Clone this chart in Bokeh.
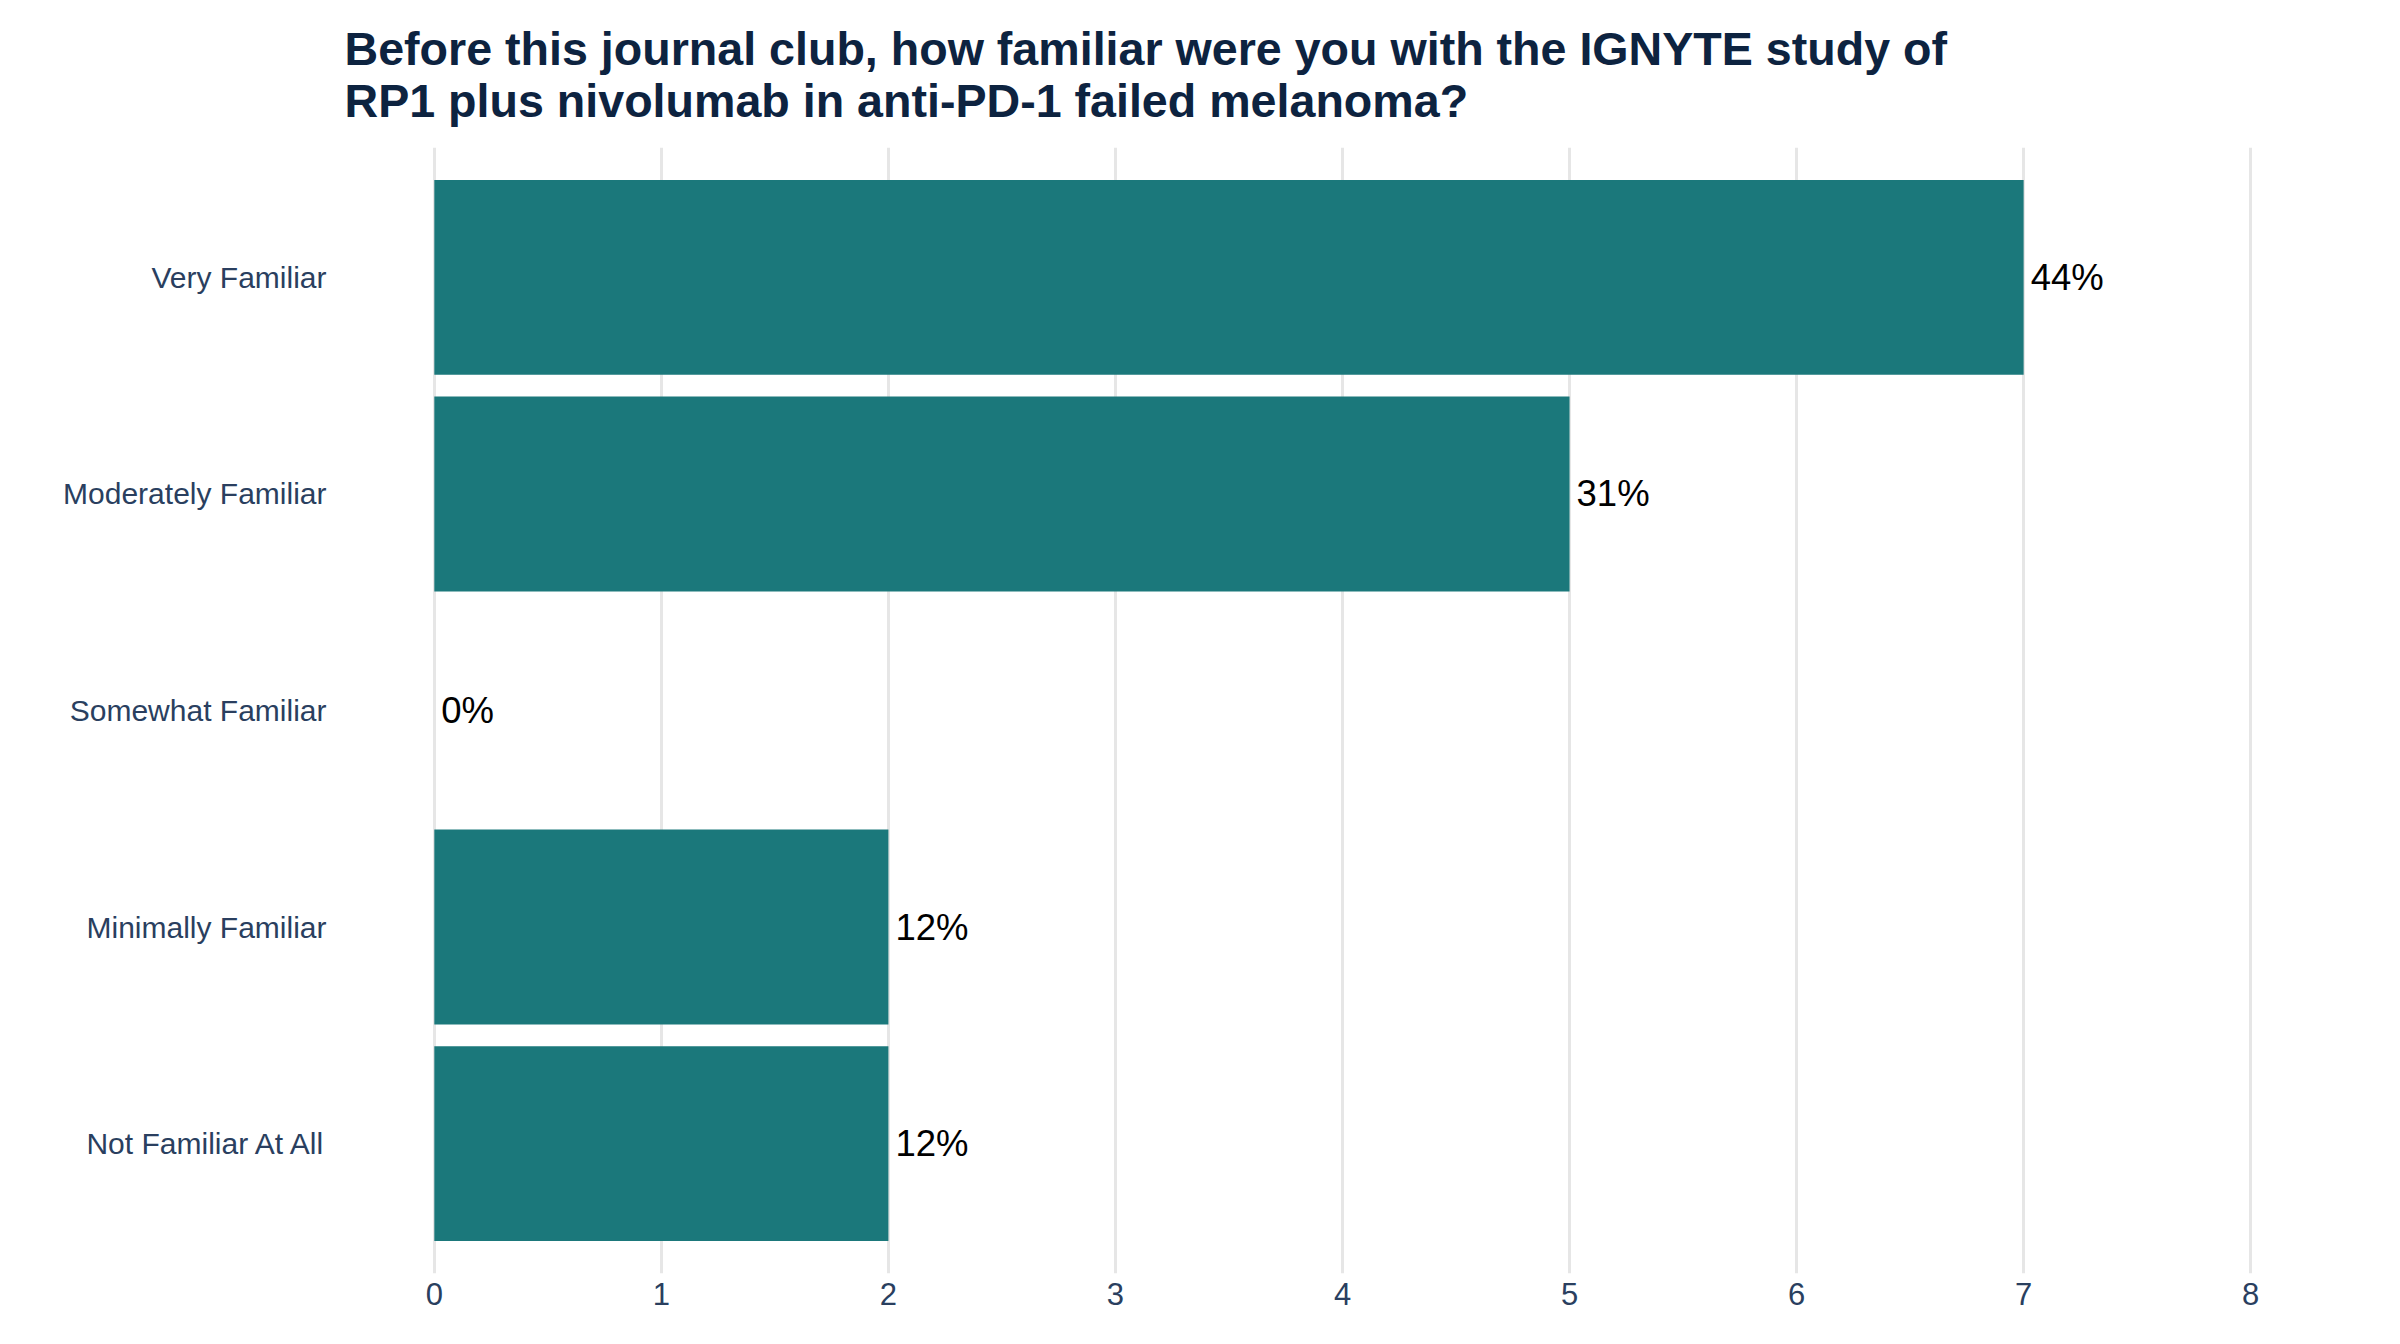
from bokeh.plotting import figure
from bokeh.models import FactorRange, Range1d, FixedTicker, ColumnDataSource
from bokeh.core.properties import value
from bokeh.embed import file_html
from bokeh.resources import INLINE

title_text = ("Before this journal club, how familiar were you with the IGNYTE study of\n"
              "RP1 plus nivolumab in anti-PD-1 failed melanoma?")

# categories from top to bottom as shown
categories = ["Very Familiar", "Moderately Familiar", "Somewhat Familiar",
              "Minimally Familiar", "Not Familiar At All"]
counts = [7, 5, 0, 2, 2]
pct_labels = ["44%", "31%", "0%", "12%", "12%"]
x_ticks = [0, 1, 2, 3, 4, 5, 6, 7, 8]

BAR_COLOR = "#1b787b"
FONT = "Liberation Sans"

source = ColumnDataSource(data=dict(cat=categories, count=counts, label=pct_labels))

y_range = FactorRange(factors=list(reversed(categories)), range_padding=0.04)

p = figure(
    width=2392, height=1338,
    y_range=y_range, x_range=Range1d(-0.4, 8.4),
    output_backend="svg", toolbar_location=None,
    min_border_left=343, min_border_right=51,
    min_border_top=147, min_border_bottom=65,
)

p.hbar(y="cat", right="count", left=0, height=0.9, source=source,
       fill_color=BAR_COLOR, line_color=None)

p.text(x="count", y="cat", text="label", source=source,
       x_offset=7, text_align="left", text_baseline="middle",
       text_font_size="36.5px", text_color="black", text_font=value(FONT))

# title
p.title.text = title_text
p.title.text_font = FONT
p.title.text_font_size = "46.6px"
p.title.text_font_style = "bold"
p.title.text_color = "#0d2340"
p.title.align = "left"
p.title.vertical_align = "bottom"
p.title.offset = 1
p.title.standoff = 41
p.title.text_line_height = 1.0

# axes
p.xaxis.ticker = FixedTicker(ticks=x_ticks)
for ax in (p.xaxis, p.yaxis):
    ax.axis_line_color = None
    ax.major_tick_line_color = None
    ax.minor_tick_line_color = None
    ax.major_tick_out = 0
    ax.major_tick_in = 0
    ax.major_label_text_font = FONT
    ax.major_label_text_color = "#2a3f5f"
p.xaxis.major_label_text_font_size = "31px"
p.yaxis.major_label_text_font_size = "30px"
p.xaxis.major_label_standoff = 9
p.yaxis.major_label_standoff = 17

p.xgrid.grid_line_color = "#e6e6e6"
p.xgrid.grid_line_width = 3
p.xgrid.ticker = FixedTicker(ticks=x_ticks)
p.ygrid.grid_line_color = None
p.outline_line_color = None
p.background_fill_color = "white"
p.border_fill_color = "white"

open("out.html", "w").write(file_html(p, INLINE))
